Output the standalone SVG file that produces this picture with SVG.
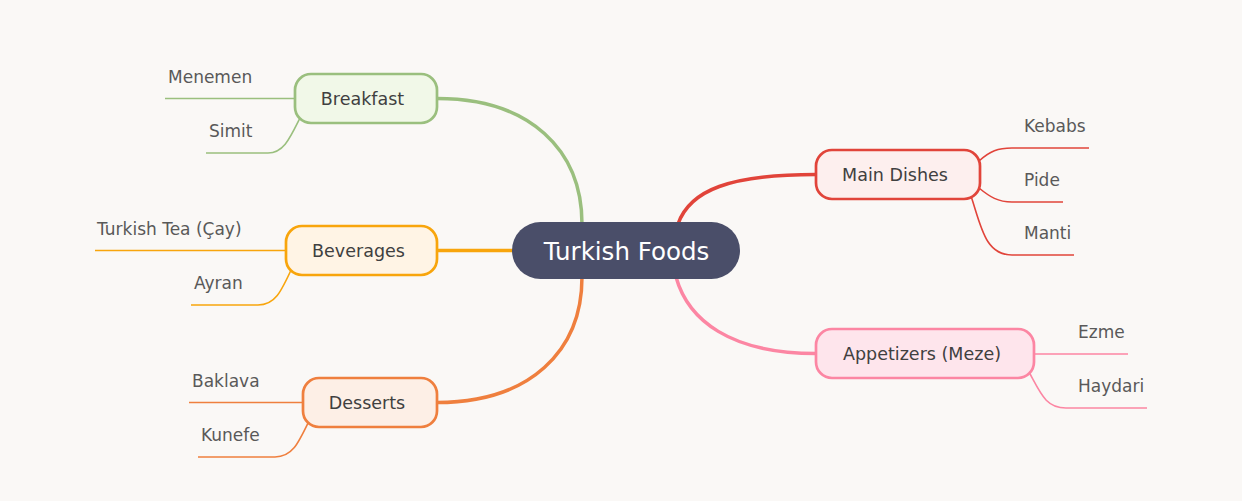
<svg xmlns="http://www.w3.org/2000/svg" width="1242" height="501" viewBox="0 0 1242 501">
<style>
.bg{fill:#faf8f6}
.root rect{fill:#4a4e69}
.root text{fill:#ffffff;font-family:"DejaVu Sans",sans-serif;font-size:24.5px;text-anchor:middle;dominant-baseline:central}
.branch rect{stroke-width:2.7}
.branch text{fill:#404040;font-family:"DejaVu Sans",sans-serif;font-size:17.5px;text-anchor:middle;dominant-baseline:central}
.leaf text{fill:#595959;font-family:"DejaVu Sans",sans-serif;font-size:17px}
.main{fill:none;stroke-width:3.5;stroke-linecap:round}
.sub{fill:none;stroke-width:1.6}
.g{stroke:#9abf7e}.o{stroke:#f8a50c}.d{stroke:#ef7f3e}.r{stroke:#e1443a}.p{stroke:#fc86a3}
</style>
<rect class="bg" x="0" y="0" width="1242" height="501"/>
<g id="connectors">
<path class="main g" d="M582 224 C582 150 530 98.5 437 98.5"/>
<path class="main o" d="M437 250.5 L514 250.5"/>
<path class="main d" d="M582 277 C582 351 530 402.5 437 402.5"/>
<path class="main r" d="M678 224 C690 190 730 174.5 816 174.5"/>
<path class="main p" d="M676 277 C688 320 730 353.5 816 353.5"/>
<path class="sub g" d="M295 98.5 L165 98.5"/>
<path class="sub g" d="M301 116 C290 138 284 153 268 153 L206 153"/>
<path class="sub o" d="M286 250.5 L95 250.5"/>
<path class="sub o" d="M292 268 C281 292 275 305 258 305 L191 305"/>
<path class="sub d" d="M303 402.5 L189 402.5"/>
<path class="sub d" d="M309 421 C298 444 292 457 275 457 L198 457"/>
<path class="sub r" d="M979 161 C990 151 998 148 1012 148 L1089 148"/>
<path class="sub r" d="M979 188 C990 197 998 202 1012 202 L1063 202"/>
<path class="sub r" d="M971 196 C981 226 985 255 1012 255 L1074 255"/>
<path class="sub p" d="M1034 354 L1128 354"/>
<path class="sub p" d="M1029 372 C1041 394 1046 408 1066 408 L1147 408"/>
</g>
<g id="root" class="root">
<rect x="512" y="222" width="228" height="57" rx="28.5"/>
<text x="626.5" y="251">Turkish Foods</text>
</g>
<g id="breakfast" class="branch">
<rect x="295" y="74" width="142" height="49" rx="16" fill="#f1f8e8" stroke="#9abf7e"/>
<text x="362.5" y="99">Breakfast</text>
</g>
<g id="beverages" class="branch">
<rect x="286" y="226" width="151" height="49" rx="16" fill="#fff4e5" stroke="#f8a50c"/>
<text x="358.5" y="251">Beverages</text>
</g>
<g id="desserts" class="branch">
<rect x="303" y="378" width="134" height="49" rx="16" fill="#fdefe6" stroke="#ef7f3e"/>
<text x="367" y="403">Desserts</text>
</g>
<g id="main-dishes" class="branch">
<rect x="816" y="150" width="164" height="49" rx="16" fill="#fdefee" stroke="#e1443a"/>
<text x="895" y="175">Main Dishes</text>
</g>
<g id="appetizers" class="branch">
<rect x="816" y="329" width="218" height="49" rx="16" fill="#fee5ec" stroke="#fc86a3"/>
<text x="922" y="354">Appetizers (Meze)</text>
</g>
<g id="leaf-menemen" class="leaf"><text x="168" y="83">Menemen</text></g>
<g id="leaf-simit" class="leaf"><text x="209" y="137">Simit</text></g>
<g id="leaf-tea" class="leaf"><text x="97" y="235">Turkish Tea (Çay)</text></g>
<g id="leaf-ayran" class="leaf"><text x="194" y="289">Ayran</text></g>
<g id="leaf-baklava" class="leaf"><text x="192" y="387">Baklava</text></g>
<g id="leaf-kunefe" class="leaf"><text x="201" y="441">Kunefe</text></g>
<g id="leaf-kebabs" class="leaf"><text x="1024" y="132">Kebabs</text></g>
<g id="leaf-pide" class="leaf"><text x="1024" y="186">Pide</text></g>
<g id="leaf-manti" class="leaf"><text x="1024" y="239">Manti</text></g>
<g id="leaf-ezme" class="leaf"><text x="1078" y="338">Ezme</text></g>
<g id="leaf-haydari" class="leaf"><text x="1078" y="392">Haydari</text></g>
</svg>
